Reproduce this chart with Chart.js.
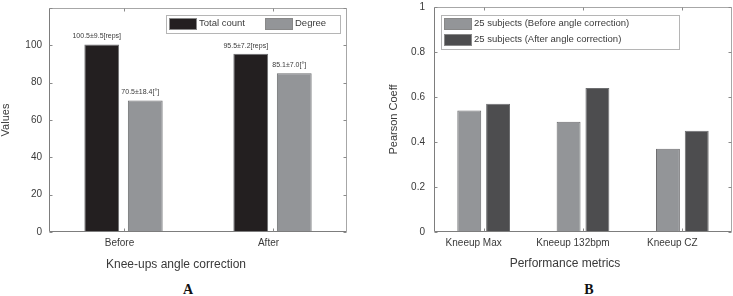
<!DOCTYPE html>
<html>
<head>
<meta charset="utf-8">
<script src="https://cdn.jsdelivr.net/npm/chart.js@4"></script>
<style>
  body { margin: 0; background: #fff; }
  #wrap { position: relative; width: 733px; height: 296px; background: #fff; overflow: hidden; }
  .panel { position: absolute; top: 282px; width: 20px; margin-left: -10px; text-align: center;
           font: bold 14px "Liberation Serif", "DejaVu Serif", serif; color: #111; }
</style>
</head>
<body>
<div id="wrap">
  <canvas id="chartA" width="366" height="280" style="position:absolute;left:0;top:0"></canvas>
  <canvas id="chartB" width="363" height="280" style="position:absolute;left:370px;top:0"></canvas>
  <div class="panel" style="left:188px">A</div>
  <div class="panel" style="left:589px">B</div>
</div>
<script>
// panel A
const groupsA = ["Before", "After"];
const totalCount = [100.5, 95.5];
const degree = [70.5, 85.1];
const totalLabels = ["100.5±9.5[reps]", "95.5±7.2[reps]"];
const degreeLabels = ["70.5±18.4[°]", "85.1±7.0[°]"];

// panel B
const metricsB = ["Kneeup Max", "Kneeup 132bpm", "Kneeup CZ"];
const beforeCorr = [0.54, 0.49, 0.37];
const afterCorr = [0.57, 0.64, 0.45];

const FONT = "'Liberation Sans', Arial, sans-serif";
const TEXT = "#3a3a3a";

// box round the plot with small inward ticks, like the original figure
const framePlugin = {
  id: "frame",
  afterDatasetsDraw(chart) {
    const { ctx, chartArea: a, scales } = chart;
    const L = Math.round(a.left) + 0.5, R = Math.round(a.right) - 0.5;
    const T = Math.round(a.top) + 0.5, B = Math.round(a.bottom) - 0.5;
    ctx.save();
    ctx.lineWidth = 1;
    ctx.strokeStyle = "#a7a7a7";
    ctx.beginPath();
    ctx.moveTo(L, T); ctx.lineTo(R, T); ctx.lineTo(R, B);
    ctx.stroke();
    ctx.strokeStyle = "#7d7d7d";
    ctx.beginPath();
    ctx.moveTo(L, T); ctx.lineTo(L, B); ctx.lineTo(R, B);
    ctx.stroke();
    ctx.strokeStyle = "#8a8a8a";
    ctx.beginPath();
    scales.y.ticks.forEach((t, i) => {
      const y = Math.round(scales.y.getPixelForTick(i)) + 0.5;
      ctx.moveTo(L, y); ctx.lineTo(L + 3, y);
      ctx.moveTo(R, y); ctx.lineTo(R - 3, y);
    });
    scales.x.ticks.forEach((t, i) => {
      const x = Math.round(scales.x.getPixelForTick(i)) + 0.5;
      ctx.moveTo(x, B); ctx.lineTo(x, B - 3);
      ctx.moveTo(x, T); ctx.lineTo(x, T + 3);
    });
    ctx.stroke();
    ctx.restore();
  }
};

// legend box inside the plot, x title, value labels
const extrasPlugin = {
  id: "extras",
  afterDraw(chart, args, opts) {
    const { ctx, chartArea: a } = chart;
    ctx.save();

    // x axis title (sits a little left of centre in the original)
    ctx.fillStyle = TEXT;
    ctx.font = "12px " + FONT;
    ctx.textAlign = "center";
    ctx.textBaseline = "middle";
    ctx.fillText(opts.xTitle, (a.left + a.right) / 2 + opts.xTitleShift, opts.xTitleY);

    // value labels above bars
    if (opts.barLabels) {
      ctx.font = "7px " + FONT;
      opts.barLabels.forEach((labels, di) => {
        chart.getDatasetMeta(di).data.forEach((bar, i) => {
          ctx.fillText(labels[i], bar.x - 5, bar.y - 8);
        });
      });
    }

    // legend
    const lg = opts.legend;
    const bx = a.left + lg.x, by = a.top + lg.y;
    ctx.strokeStyle = "#b5b5b5";
    ctx.lineWidth = 1;
    ctx.strokeRect(Math.round(bx) + 0.5, Math.round(by) + 0.5, lg.w, lg.h);
    ctx.font = "9.5px " + FONT;
    ctx.textAlign = "left";
    chart.data.datasets.forEach((ds, i) => {
      const ix = bx + lg.items[i][0], iy = by + lg.items[i][1];
      ctx.fillStyle = ds.backgroundColor;
      ctx.fillRect(ix, iy, 28, 12);
      ctx.strokeStyle = "#888";
      ctx.strokeRect(ix + 0.5, iy + 0.5, 27, 11);
      ctx.fillStyle = TEXT;
      ctx.fillText(ds.label, ix + 30, iy + 5.5);
    });
    ctx.restore();
  }
};

function baseOptions(cfg) {
  return {
    responsive: false,
    animation: false,
    layout: { padding: cfg.padding },
    plugins: { legend: { display: false }, tooltip: { enabled: false }, extras: cfg.extras },
    scales: {
      x: {
        grid: { display: false, drawTicks: false },
        border: { display: false },
        ticks: { font: { family: FONT, size: 10 }, color: TEXT, padding: 5, labelOffset: cfg.labelOffset },
        afterFit: s => { s.height = 48; }
      },
      y: {
        min: 0,
        max: cfg.yMax,
        grid: { display: false, drawTicks: false },
        border: { display: false },
        ticks: {
          stepSize: cfg.yStep,
          font: { family: FONT, size: 10 },
          color: TEXT,
          padding: cfg.yPad,
          callback: cfg.yCallback
        },
        title: {
          display: true,
          text: cfg.yTitle,
          color: TEXT,
          font: { family: FONT, size: 11, lineHeight: 1 },
          padding: { top: cfg.yTitlePad, bottom: 0 }
        },
        afterFit: s => {
          s.width = cfg.yWidth;
          // let layout.padding alone decide the top of the plot
          s.paddingTop = 0;
          s.paddingBottom = 0;
        }
      }
    }
  };
}

new Chart(document.getElementById("chartA"), {
  type: "bar",
  data: {
    labels: groupsA,
    datasets: [
      { label: "Total count", data: totalCount, backgroundColor: "#231f20", borderColor: "#6d6e70", borderWidth: 1,
        categoryPercentage: 0.584, barPercentage: 0.8 },
      { label: "Degree", data: degree, backgroundColor: "#939598", borderColor: "#6d6e70", borderWidth: 1,
        categoryPercentage: 0.584, barPercentage: 0.8 }
    ]
  },
  options: baseOptions({
    padding: { top: 8, right: 19, bottom: 0, left: 0 },
    labelOffset: -4,
    yMax: 120,
    yStep: 20,
    yPad: 7,
    yWidth: 49,
    yTitle: "Values",
    yTitlePad: 0,
    yCallback: v => (v === 120 ? "" : v),
    extras: {
      xTitle: "Knee-ups angle correction",
      xTitleShift: -22,
      xTitleY: 265,
      barLabels: [totalLabels, degreeLabels],
      legend: { x: 117, y: 7, w: 174, h: 18, items: [[3, 3], [99, 3]] }
    }
  }),
  plugins: [framePlugin, extrasPlugin]
});

new Chart(document.getElementById("chartB"), {
  type: "bar",
  data: {
    labels: metricsB,
    datasets: [
      { label: "25 subjects (Before angle correction)", data: beforeCorr, backgroundColor: "#939598",
        borderColor: "#6d6e70", borderWidth: 1, categoryPercentage: 0.58, barPercentage: 0.83 },
      { label: "25 subjects (After angle correction)", data: afterCorr, backgroundColor: "#4d4d4f",
        borderColor: "#6d6e70", borderWidth: 1, categoryPercentage: 0.58, barPercentage: 0.83 }
    ]
  },
  options: baseOptions({
    padding: { top: 7, right: 1, bottom: 0, left: 0 },
    labelOffset: -10,
    yMax: 1,
    yStep: 0.2,
    yPad: 9,
    yWidth: 64,
    yTitle: "Pearson Coeff",
    yTitlePad: 18,
    yCallback: v => v,
    extras: {
      xTitle: "Performance metrics",
      xTitleShift: -18,
      xTitleY: 264,
      legend: { x: 7, y: 8, w: 238, h: 34, items: [[3, 3], [3, 19]] }
    }
  }),
  plugins: [framePlugin, extrasPlugin]
});
</script>
</body>
</html>
